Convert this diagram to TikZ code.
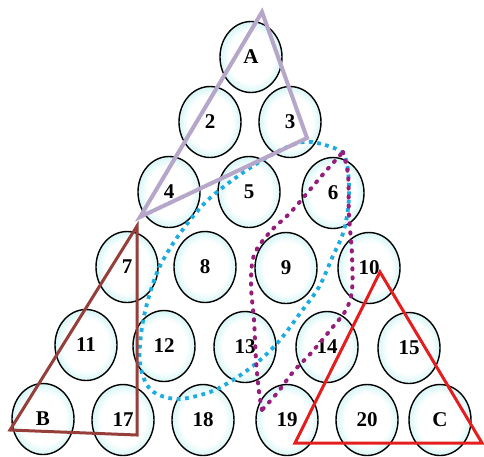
\documentclass[tikz,border=0pt]{standalone}
\usepackage{fontspec}
\setmainfont{Liberation Serif}
\usetikzlibrary{shapes.geometric}
\definecolor{ballrim}{RGB}{215,246,246}
\definecolor{lav}{RGB}{182,166,202}
\definecolor{brn}{RGB}{150,62,58}
\definecolor{redt}{RGB}{228,30,30}
\definecolor{cyd}{RGB}{28,172,226}
\definecolor{mgd}{RGB}{150,30,122}
\pgfdeclareradialshading{ballshade}{\pgfpoint{0bp}{0bp}}{color(0bp)=(white); color(18bp)=(white); color(25bp)=(ballrim); color(50bp)=(ballrim)}
\tikzset{
  ball/.style={ellipse, draw=black, line width=1.4pt, shading=ballshade,
    minimum width=62pt, minimum height=71pt, inner sep=0pt,
    font=\fontsize{21}{21}\selectfont\bfseries},
  tri/.style={line join=miter},
  cyandots/.style={draw=cyd, line width=3.8pt, dash pattern=on 3.8pt off 4.6pt},
  magdots/.style={draw=mgd, line width=4pt, line cap=round, dash pattern=on 1.2pt off 7.8pt}
}
\begin{document}
\begin{tikzpicture}[x=1pt,y=-1pt]
\useasboundingbox (0,0) rectangle (484,456);
\fill[white] (0,0) rectangle (484,456);
% row 1
\node[ball] (A) at (251,57) {A};
% row 2
\node[ball] (n2) at (210,122) {2};
\node[ball] (n3) at (290,122) {3};
% row 3
\node[ball] (n4) at (169,192) {4};
\node[ball] (n5) at (249,192) {5};
\node[ball] (n6) at (333,193) {6};
% row 4
\node[ball] (n7) at (127,267) {7};
\node[ball] (n8) at (205,267) {8};
\node[ball] (n9) at (286,268) {9};
\node[ball] (n10) at (369,268) {10};
% row 5
\node[ball] (n11) at (86,345) {11};
\node[ball] (n12) at (164,346) {12};
\node[ball] (n13) at (245,347) {13};
\node[ball] (n14) at (327,347) {14};
\node[ball] (n15) at (409,348) {15};
% row 6
\node[ball] (B) at (43,419) {B};
\node[ball] (n17) at (123,420) {17};
\node[ball] (n18) at (203,420) {18};
\node[ball] (n19) at (287,420) {19};
\node[ball] (n20) at (367,420) {20};
\node[ball] (C) at (440,420) {C};
% cyan dotted loop
\draw[cyandots] plot[smooth cycle, tension=0.55] coordinates {
  (298,143) (325,145) (345,157) (349,195) (344,230) (332,258) (319,287)
  (301,312) (280,340) (259,361) (236,378) (210,392) (177,399) (151,390)
  (140,364) (142,327) (150,293) (161,264) (181,232) (210,198) (256,164)};
% magenta dotted loop
\draw[magdots] plot[smooth, tension=0.55] coordinates {
  (262,410) (259,392) (256,360) (254,320) (251,285) (254,255) (270,232)
  (290,213) (308,192) (325,172) (343,152)};
\draw[magdots] plot[smooth, tension=0.55] coordinates {
  (343,152) (348,175) (349,215) (352,255) (352,290) (346,310) (332,328)
  (312,352) (293,372) (278,392) (262,410)};
% triangles
\draw[tri, draw=lav, line width=4pt] (262,12) -- (307,138) -- (140,217) -- cycle;
\draw[tri, draw=brn, line width=3pt] (137,226) -- (137,435) -- (10,430) -- cycle;
\draw[tri, draw=redt, line width=3pt] (380,272) -- (482,443) -- (295,443) -- cycle;
\end{tikzpicture}
\end{document}
